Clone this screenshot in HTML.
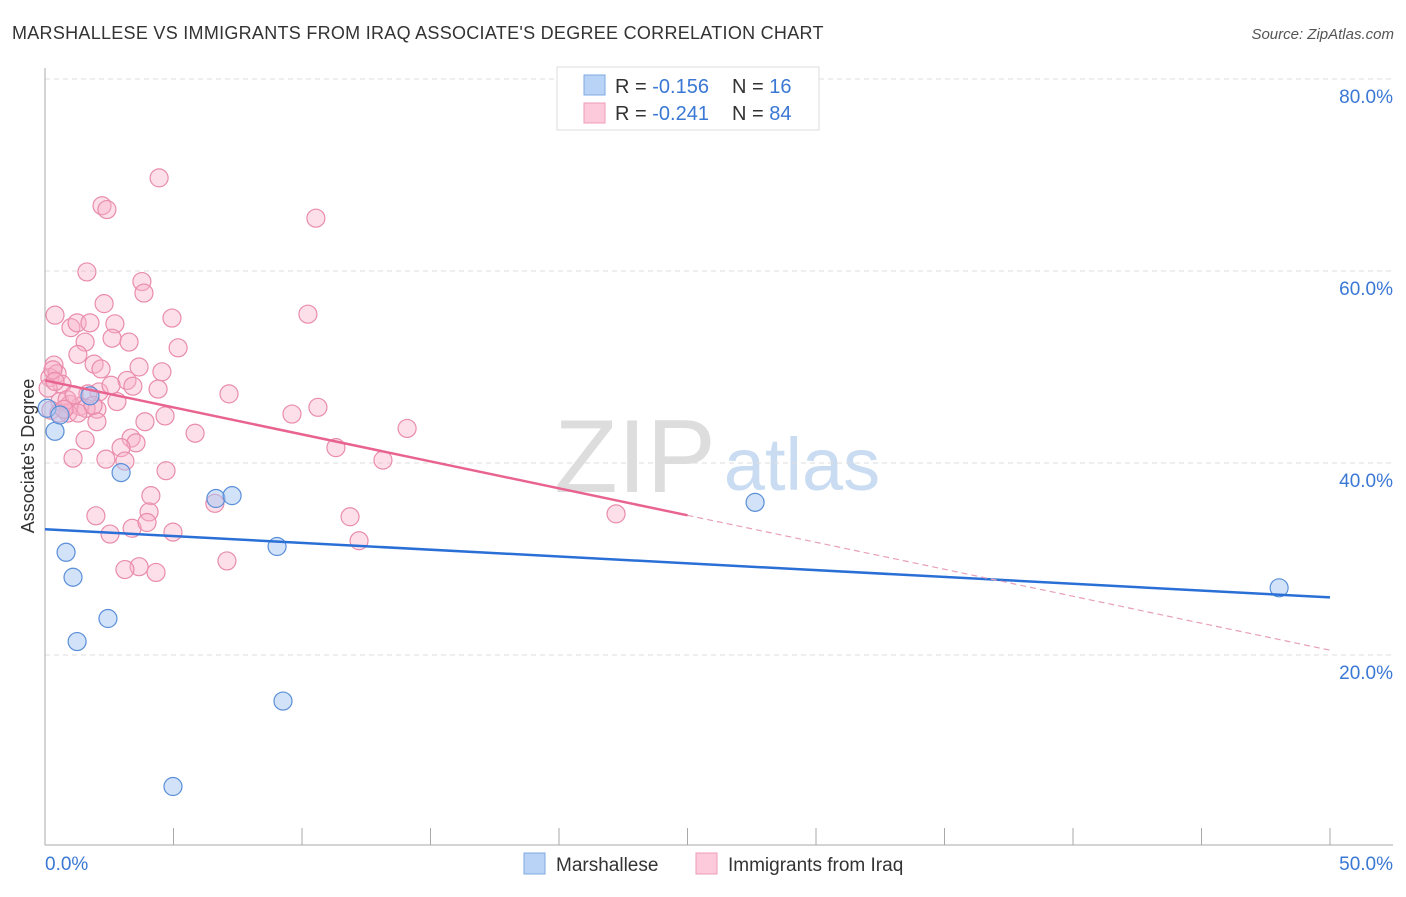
<!DOCTYPE html>
<html><head><meta charset="utf-8"><style>
body{margin:0;background:#fff;font-family:"Liberation Sans",sans-serif;}
svg text{font-family:"Liberation Sans",sans-serif;}
</style></head><body>
<svg id="chart" width="1406" height="892">
<text x="12" y="39" font-size="18" fill="#333" letter-spacing="0.28">MARSHALLESE VS IMMIGRANTS FROM IRAQ ASSOCIATE'S DEGREE CORRELATION CHART</text>
<text x="1394" y="39" font-size="15" fill="#555" font-style="italic" text-anchor="end">Source: ZipAtlas.com</text>
<g>
<text x="635" y="492" font-size="104" fill="#ddd" font-family="Liberation Serif,serif" text-anchor="middle">ZIP</text>
<text x="802" y="490" font-size="74" fill="#c9dcf2" text-anchor="middle">atlas</text>
</g>
<g id="grid"></g>
<g id="axes"></g>
<g id="points"></g>
<g id="lines"></g>
<g>
<rect x="557" y="67" width="262" height="63" fill="#fff" stroke="#ddd"/>
<rect x="584" y="75" width="21" height="20" fill="#b8d3f5" stroke="#7ea8e0"/>
<rect x="584" y="103" width="21" height="20" fill="#fccadb" stroke="#ee9bb8"/>
<text x="615" y="93" font-size="20" fill="#333">R = <tspan fill="#3a78d4">-0.156</tspan></text>
<text x="732" y="93" font-size="20" fill="#333">N = <tspan fill="#3a78d4"> 16</tspan></text>
<text x="615" y="120" font-size="20" fill="#333">R = <tspan fill="#3a78d4">-0.241</tspan></text>
<text x="732" y="120" font-size="20" fill="#333">N = <tspan fill="#3a78d4">84</tspan></text>
</g>
<g>
<rect x="524" y="853" width="21" height="21" fill="#b8d3f5" stroke="#7ea8e0"/>
<text x="556" y="871" font-size="19" fill="#333">Marshallese</text>
<rect x="696" y="853" width="21" height="21" fill="#fccadb" stroke="#ee9bb8"/>
<text x="728" y="871" font-size="19" fill="#333">Immigrants from Iraq</text>
</g>
<text transform="translate(34,456) rotate(-90)" font-size="18" fill="#333" text-anchor="middle">Associate's Degree</text>
</svg>
<script>
const yTicks=[20,40,60,80];
const yTickLabels=["20.0%","40.0%","60.0%","80.0%"];
const xTickLabels=["0.0%","50.0%"];
const blueX=[0.08,0.39,0.82,1.09,1.25,2.45,2.96,4.98,6.65,7.28,9.03,9.26,27.63,48.02,0.58,1.75];
const blueY=[45.7,43.3,30.7,28.1,21.4,23.8,39.0,6.3,36.3,36.6,31.3,15.2,35.9,27.0,45.0,47.0];
const pinkX=[4.44,10.54,2.22,2.41,1.63,3.77,3.85,2.30,0.39,10.23,4.94,1.01,1.25,1.75,2.72,2.61,1.56,3.27,5.18,1.28,0.35,1.91,3.66,2.18,4.55,0.19,0.47,0.66,3.19,3.42,4.40,7.16,2.10,1.67,2.80,0.58,0.97,1.36,2.02,0.23,0.89,0.54,10.62,9.61,4.67,3.89,2.02,5.84,14.09,1.56,3.35,3.54,2.96,11.32,1.09,2.37,3.11,13.15,4.71,4.12,6.61,1.98,4.05,11.87,22.22,3.39,3.97,4.98,2.53,12.22,7.08,3.66,3.11,4.32,0.86,1.13,0.31,0.12,0.39,2.57,1.60,1.28,1.87,0.74];
const pinkY=[69.7,65.5,66.8,66.4,59.9,58.9,57.7,56.6,55.4,55.5,55.1,54.1,54.6,54.6,54.5,53.0,52.6,52.6,52.0,51.3,50.2,50.3,50.0,49.8,49.5,48.9,49.3,48.2,48.6,48.0,47.7,47.2,47.4,47.2,46.4,46.4,46.1,45.9,45.6,45.5,45.2,45.2,45.8,45.1,44.9,44.3,44.3,43.1,43.6,42.4,42.6,42.1,41.6,41.6,40.5,40.4,40.2,40.3,39.2,36.6,35.8,34.5,34.9,34.4,34.7,33.2,33.8,32.8,32.6,31.9,29.8,29.2,28.9,28.6,46.6,47.1,49.7,47.8,48.5,48.1,45.7,45.2,46.0,45.6];
const blueTrend=[33.1,26.0];
const pinkTrend=[48.6,20.5];
const pinkSolidEnd=25;

const NS="http://www.w3.org/2000/svg";
const X0=45,X1=1330,Y0=847,YTOP=79;
const sx=v=>X0+(X1-X0)*v/50;
const sy=v=>Y0-(Y0-YTOP)*v/80;
function mk(tag,attrs,parent){const e=document.createElementNS(NS,tag);for(const k in attrs)e.setAttribute(k,attrs[k]);parent.appendChild(e);return e;}
const grid=document.getElementById('grid'),axes=document.getElementById('axes'),pts=document.getElementById('points'),lines=document.getElementById('lines');
yTicks.forEach((t,i)=>{
 const l=mk('line',{x1:X0,x2:1393,y1:sy(t),y2:sy(t),stroke:'#ddd','stroke-dasharray':'5,4'},grid);
 
 
 const tx=mk('text',{x:1393,y:sy(t)+24,'font-size':19,fill:'#3a78d4','text-anchor':'end'},axes);
 tx.textContent=yTickLabels[i];
 
 
});
const ya=mk('line',{x1:X0,x2:X0,y1:68,y2:845,stroke:'#aaa'},axes);


const xa=mk('line',{x1:X0,x2:1393,y1:845,y2:845,stroke:'#aaa'},axes);


for(let i=0;i<=10;i++){
 const t=mk('line',{x1:sx(i*5),x2:sx(i*5),y1:828,y2:845,stroke:'#aaa'},axes);
 
 
}
[[0,'start',45],[50,'end',1393]].forEach((d,i)=>{
 const tx=mk('text',{x:d[2],y:870,'font-size':19,fill:'#3a78d4','text-anchor':d[1]},axes);
 tx.textContent=xTickLabels[i];
 
 
});
pinkX.forEach((x,i)=>{
 const c=mk('circle',{cx:sx(x),cy:sy(pinkY[i]),r:9,fill:'rgba(248,175,200,0.4)',stroke:'#e98cac','stroke-width':1.2},pts);
 
 
});
blueX.forEach((x,i)=>{
 const c=mk('circle',{cx:sx(x),cy:sy(blueY[i]),r:9,fill:'rgba(165,198,242,0.5)',stroke:'#5a8fd8','stroke-width':1.2},pts);
 
 
});
const pAt=x=>pinkTrend[0]+(pinkTrend[1]-pinkTrend[0])*x/50;
const bl=mk('line',{x1:sx(0),y1:sy(blueTrend[0]),x2:sx(50),y2:sy(blueTrend[1]),stroke:'#2a6fd6','stroke-width':2.5},lines);


const pl=mk('line',{x1:sx(0),y1:sy(pAt(0)),x2:sx(pinkSolidEnd),y2:sy(pAt(pinkSolidEnd)),stroke:'#e8648f','stroke-width':2.5},lines);


const pd=mk('line',{x1:sx(pinkSolidEnd),y1:sy(pAt(pinkSolidEnd)),x2:sx(50),y2:sy(pAt(50)),stroke:'#e8a0b8','stroke-width':1.2,'stroke-dasharray':'6,4'},lines);


</script>
</body></html>
